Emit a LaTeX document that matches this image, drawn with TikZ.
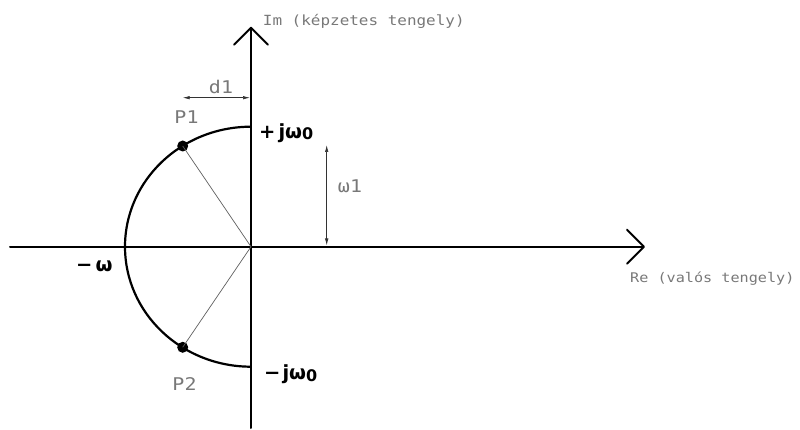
\documentclass[tikz,border=0pt]{standalone}
\usepackage{fontspec}
\setmainfont{DejaVu Sans}
\newfontfamily\cadfont[FakeStretch=1.14]{DejaVu Sans Mono}
\usetikzlibrary{arrows.meta}
\definecolor{txtgray}{RGB}{120,120,120}
\definecolor{linegray}{RGB}{95,95,95}
\begin{document}
\begin{tikzpicture}[x=1pt,y=-1pt,
  axis/.style={line width=2pt, line join=round, line cap=round,
    -{Straight Barb[length=17pt,width=34pt,line width=2pt,round]}},
  curve/.style={line width=2.2pt},
  radial/.style={line width=0.7pt, draw=linegray},
  dim/.style={line width=0.7pt, draw=black!80,
    {Latex[length=7pt,width=3.5pt]}-{Latex[length=7pt,width=3.5pt]}},
  dot/.style={circle, fill=black, inner sep=0pt, minimum size=11pt},
  cad/.style={font=\cadfont\fontsize{14}{14}\selectfont, text=txtgray, inner sep=0pt, anchor=base west},
  cadbig/.style={font=\cadfont\fontsize{17.5}{18}\selectfont, text=txtgray, inner sep=0pt, anchor=base},
  lab/.style={font=\bfseries\fontsize{19.5}{20}\selectfont, inner sep=0pt, anchor=base west}
]
\useasboundingbox (0,0) rectangle (800,430);
\newcommand{\zsub}{{\fontsize{16}{16}\selectfont\raisebox{-1.5pt}{0}}}
% axes
\coordinate (xL) at (10,246.7);
\coordinate (xR) at (645,246.7);
\coordinate (yB) at (251,428);
\coordinate (yT) at (251,26.7);
\coordinate (O) at (251,246.7);
\draw[axis] (xL) -- (xR);
\draw[axis] (yB) -- (yT);
% semi-ellipse
\coordinate (top) at (251,126.7);
\draw[curve] (top) arc[start angle=90, end angle=270, x radius=126pt, y radius=120pt];
% points
\node[dot] (P1) at (182.7,146) {};
\node[dot] (P2) at (182.7,347.3) {};
\draw[radial] (O) -- (P1.center);
\draw[radial] (O) -- (P2.center);
% dimensions
\coordinate (d1a) at (182.7,97.7);
\coordinate (d1b) at (250,97.7);
\draw[dim] (d1a) -- (d1b);
\coordinate (w1a) at (326.7,145);
\coordinate (w1b) at (326.7,245.5);
\draw[dim] (w1a) -- (w1b);
% labels
\node[cad] (imlab) at (262.7,25.5) {Im (képzetes tengely)};
\node[cad, font=\cadfont\fontsize{13.3}{14}\selectfont] (relab) at (630,282.5) {Re (valós tengely)};
\node[cadbig] (p1lab) at (186.5,123.3) {P1};
\node[cadbig] (p2lab) at (184.5,390.5) {P2};
\node[cadbig] (d1lab) at (221,93.3) {d1};
\node[cadbig] (w1lab) at (350,193) {ω1};
\node[lab] (pjw) at (259,138.5) {+\kern3pt jω\zsub};
\node[lab] (mjw) at (264,379.5) {−\kern2pt jω\zsub};
\node[lab] (mw) at (76,272) {−\kern3pt ω};
\end{tikzpicture}
\end{document}
